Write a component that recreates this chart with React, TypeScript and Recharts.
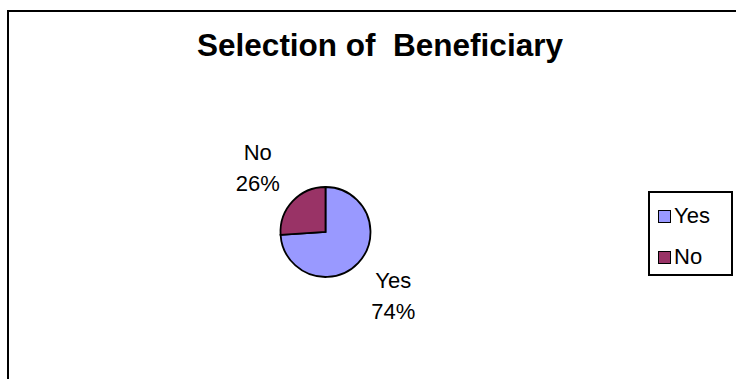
import React from 'react';
import { PieChart, Pie, Cell, Legend } from 'recharts';

// Selection of beneficiary - share of answers
const categories = ['Yes', 'No'];
const values = [74, 26];

const COLORS = ['#9999FF', '#993366'];
const FONT = '"Liberation Sans", Arial, sans-serif';
const RAD = Math.PI / 180;

const data = categories.map((name, i) => ({ name, value: values[i] }));

const renderLabel = (props: any) => {
  const { cx, cy, midAngle, outerRadius, name, percent } = props;
  const r = outerRadius + 48;
  const x = cx + r * Math.cos(-midAngle * RAD);
  const y = cy + r * Math.sin(-midAngle * RAD);
  return (
    <text x={x} y={y} textAnchor="middle" fontFamily={FONT} fontSize={22} fill="#000">
      <tspan x={x} y={y - 8}>{name}</tspan>
      <tspan x={x} y={y + 23}>{`${Math.round(percent * 100)}%`}</tspan>
    </text>
  );
};

const LegendBox = () => (
  <div
    style={{
      position: 'relative',
      width: 85,
      height: 85,
      border: '2px solid #000',
      boxSizing: 'border-box',
      fontFamily: FONT,
      background: '#fff',
    }}
  >
    {categories.map((name, i) => (
      <div
        key={name}
        style={{
          position: 'absolute',
          left: 8,
          top: 10 + i * 41,
          height: 26,
          display: 'flex',
          alignItems: 'center',
        }}
      >
        <span
          style={{
            width: 11,
            height: 11,
            border: '1px solid #000',
            background: COLORS[i],
            display: 'inline-block',
            marginRight: 3,
          }}
        />
        <span style={{ fontSize: 22, lineHeight: '26px', color: '#000' }}>{name}</span>
      </div>
    ))}
  </div>
);

export default function App() {
  return (
    <div
      style={{
        position: 'absolute',
        left: 0,
        top: 0,
        width: 736,
        height: 379,
        overflow: 'hidden',
        background: '#fff',
      }}
    >
      <div
        style={{
          position: 'absolute',
          left: 7,
          top: 10,
          width: 800,
          height: 400,
          border: '2px solid #000',
        }}
      />
      <svg width={736} height={379} style={{ position: 'absolute', left: 0, top: 0 }}>
        <text
          x={380}
          y={56}
          textAnchor="middle"
          fontFamily={FONT}
          fontSize={31.5}
          fontWeight="bold"
          fill="#000"
          style={{ whiteSpace: 'pre' }}
        >
          {'Selection of  Beneficiary'}
        </text>
      </svg>
      <div style={{ position: 'absolute', left: 0, top: 0 }}>
        <PieChart width={736} height={379} margin={{ top: 0, right: 0, bottom: 0, left: 0 }}>
          <Pie
            data={data}
            dataKey="value"
            nameKey="name"
            cx={325.5}
            cy={232}
            outerRadius={45}
            startAngle={90}
            endAngle={-270}
            stroke="#000"
            strokeWidth={1.8}
            label={renderLabel}
            labelLine={false}
            isAnimationActive={false}
          >
            {data.map((d, i) => (
              <Cell key={d.name} fill={COLORS[i]} />
            ))}
          </Pie>
          <Legend
            content={() => <LegendBox />}
            wrapperStyle={{ left: 648, top: 191, right: undefined, bottom: undefined, width: 85, height: 85 }}
          />
        </PieChart>
      </div>
    </div>
  );
}
